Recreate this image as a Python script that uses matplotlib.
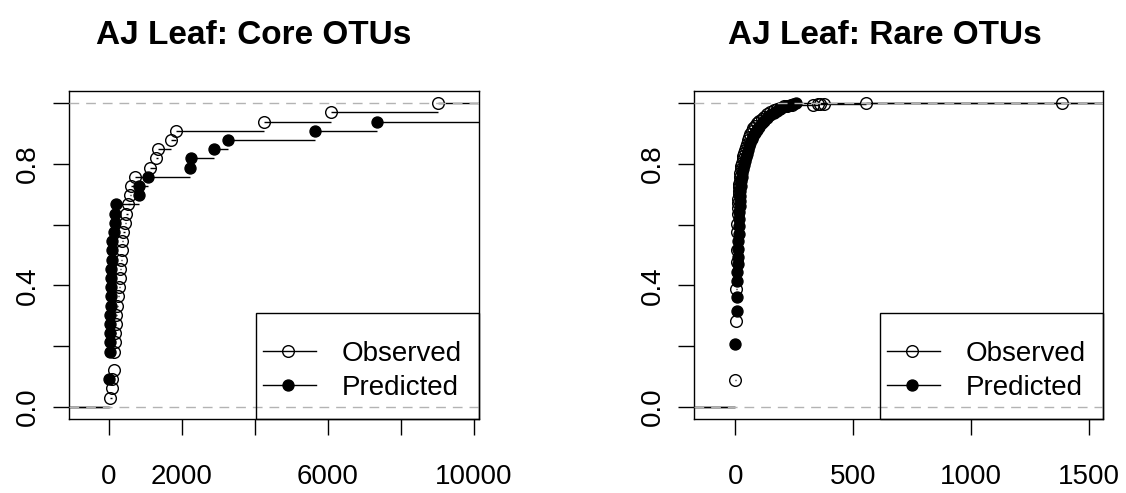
import numpy as np
import matplotlib.pyplot as plt
from matplotlib.patches import Rectangle

plt.rcParams['font.family'] = ['Liberation Sans', 'DejaVu Sans']

# Core OTUs: raw values (33 OTUs), observed vs predicted
core_observed = [38, 83, 95, 137, 150, 150, 160, 170, 180, 190, 220, 245, 275,
                 295, 312, 325, 350, 368, 395, 430, 460, 510, 570, 610, 700,
                 1118, 1302, 1346, 1714, 1851, 4250, 6082, 9011]
core_predicted = [10, 10, 10, 20, 20, 20, 25, 30, 35, 40, 45, 50, 55, 60, 65,
                  70, 80, 95, 130, 157, 170, 190, 816, 830, 1071, 2217, 2262,
                  2876, 3269, 5651, 7346, 11500, 13000]

# Rare OTUs: distinct values and cumulative proportion (ecdf)
rare_obs_x = [0, 4, 5, 6, 7, 8, 9, 10, 11, 12, 13, 14, 15, 16, 17, 18, 20, 22,
              24, 26, 28, 31, 34, 37, 40, 44, 48, 53, 58, 64, 70, 77, 85, 93,
              102, 112, 123, 135, 148, 162, 176, 190, 205, 220, 240, 331, 350,
              361, 374, 552, 1383]
rare_obs_F = [0.088, 0.282, 0.388, 0.476, 0.515, 0.575, 0.603, 0.636, 0.655,
              0.670, 0.685, 0.700, 0.712, 0.724, 0.735, 0.745, 0.758, 0.770,
              0.782, 0.793, 0.803, 0.815, 0.826, 0.836, 0.846, 0.857, 0.867,
              0.878, 0.890, 0.900, 0.909, 0.918, 0.926, 0.934, 0.941, 0.949,
              0.956, 0.963, 0.970, 0.976, 0.981, 0.985, 0.989, 0.992, 0.994,
              0.995, 0.996, 0.997, 0.998, 0.999, 1.0]
rare_pred_x = [0, 6, 7, 8, 9, 10, 11, 12, 13, 14, 15, 16, 17, 18, 19, 20, 22,
               24, 26, 28, 30, 33, 36, 40, 44, 48, 53, 58, 64, 70, 77, 85, 93,
               102, 112, 123, 135, 148, 162, 176, 190, 204, 218, 232, 245, 257]
rare_pred_F = [0.207, 0.317, 0.363, 0.416, 0.445, 0.470, 0.495, 0.520, 0.545,
               0.570, 0.595, 0.618, 0.640, 0.660, 0.678, 0.695, 0.712, 0.728,
               0.743, 0.757, 0.770, 0.783, 0.796, 0.809, 0.822, 0.834, 0.846,
               0.858, 0.870, 0.881, 0.892, 0.903, 0.913, 0.923, 0.933, 0.942,
               0.951, 0.960, 0.968, 0.975, 0.981, 0.986, 0.990, 0.994, 0.997, 1.0]

titles = ['AJ Leaf: Core OTUs', 'AJ Leaf: Rare OTUs']
labels = ['Observed', 'Predicted']
core_xticks = [0, 2000, 4000, 6000, 8000, 10000]
core_xlabels = ['0', '2000', '', '6000', '', '10000']
rare_xticks = [0, 500, 1000, 1500]
rare_xlabels = ['0', '500', '1000', '1500']
yticks = [0, 0.2, 0.4, 0.6, 0.8, 1.0]
ylabels = ['0.0', '', '0.4', '', '0.8', '']

MS_OPEN, MS_FILLED = 8.4, 7.9


def ecdf(values):
    x, counts = np.unique(values, return_counts=True)
    return x, np.cumsum(counts) / len(values)


def r_xlim(x):
    lo, hi = min(x), max(x)
    dr = 0.08 * (hi - lo)
    lo, hi = lo - dr, hi + dr
    pad = 0.04 * (hi - lo)
    return lo - pad, hi + pad


def draw_ecdf(ax, x, F, xlim, filled):
    x = np.asarray(x, dtype=float)
    F = np.asarray(F, dtype=float)
    span = xlim[1] - xlim[0]
    xs = np.concatenate([[xlim[0] - span], x, [max(x[-1], xlim[1]) + span]])
    ys = np.concatenate([[0], F])
    ax.hlines(ys, xs[:-1], xs[1:], color='black', lw=1.0, zorder=2)
    ax.plot(x, F, 'o', ms=MS_FILLED if filled else MS_OPEN, mew=1.0, mec='black',
            mfc='black' if filled else 'none', zorder=3)


def draw_legend(ax, w_px, h_px):
    # legend box anchored bottom-right, sizes in pixels
    bw, bh = 223, 106
    fx = lambda p: 1 - (bw - p) / w_px
    fy = lambda p: p / h_px
    ax.add_patch(Rectangle((fx(0), 0), bw / w_px, bh / h_px, transform=ax.transAxes,
                           fill=False, ec='black', lw=1.0, zorder=5, clip_on=False))
    for row, (lab, filled) in enumerate(zip(labels, [False, True])):
        yc = fy(68.3 - row * 34.3)
        ax.plot([fx(7), fx(60)], [yc, yc], color='black', lw=1.0,
                transform=ax.transAxes, zorder=6, clip_on=False)
        ax.plot([fx(32)], [yc], 'o', ms=MS_FILLED if filled else MS_OPEN, mew=1.0,
                mec='black', mfc='black' if filled else 'none',
                transform=ax.transAxes, zorder=6, clip_on=False)
        ax.text(fx(86), fy(68.3 - row * 34.3 - 10), lab, fontsize=20,
                ha='left', va='baseline', transform=ax.transAxes, zorder=6)


fig = plt.figure(figsize=(11.26, 4.93), dpi=100)
ax1 = fig.add_axes([69 / 1126, 74 / 493, 410 / 1126, 328 / 493])
ax2 = fig.add_axes([694 / 1126, 74 / 493, 409 / 1126, 328 / 493])

panels = [
    (ax1, ecdf(core_observed), ecdf(core_predicted), core_xticks, core_xlabels, 410),
    (ax2, (rare_obs_x, rare_obs_F), (rare_pred_x, rare_pred_F), rare_xticks, rare_xlabels, 409),
]

for ax, obs, pred, xt, xl, wpx in panels:
    xlim = r_xlim(obs[0])
    draw_ecdf(ax, obs[0], obs[1], xlim, filled=False)
    draw_ecdf(ax, pred[0], pred[1], xlim, filled=True)
    for h in (0, 1):
        ax.axhline(h, color='#B3B3B3', lw=1.0, ls=(0, (7, 5)), zorder=4)
    ax.set_xlim(xlim)
    ax.set_ylim(-0.04, 1.04)
    ax.set_xticks(xt)
    ax.set_xticklabels(xl)
    ax.set_yticks(yticks)
    ax.set_yticklabels(ylabels, rotation=90, va='center')
    ax.tick_params(axis='both', direction='out', length=11.5, width=1.0, labelsize=20)
    ax.tick_params(axis='x', pad=21)
    ax.tick_params(axis='y', pad=8.5)
    for s in ax.spines.values():
        s.set_linewidth(1.0)
    draw_legend(ax, wpx, 328)

fig.text(254 / 1126, 1 - 44 / 493, titles[0], ha='center', va='baseline',
         fontsize=24, fontweight='bold')
fig.text(885 / 1126, 1 - 44 / 493, titles[1], ha='center', va='baseline',
         fontsize=24, fontweight='bold')

fig.savefig('out.png', dpi=100)
